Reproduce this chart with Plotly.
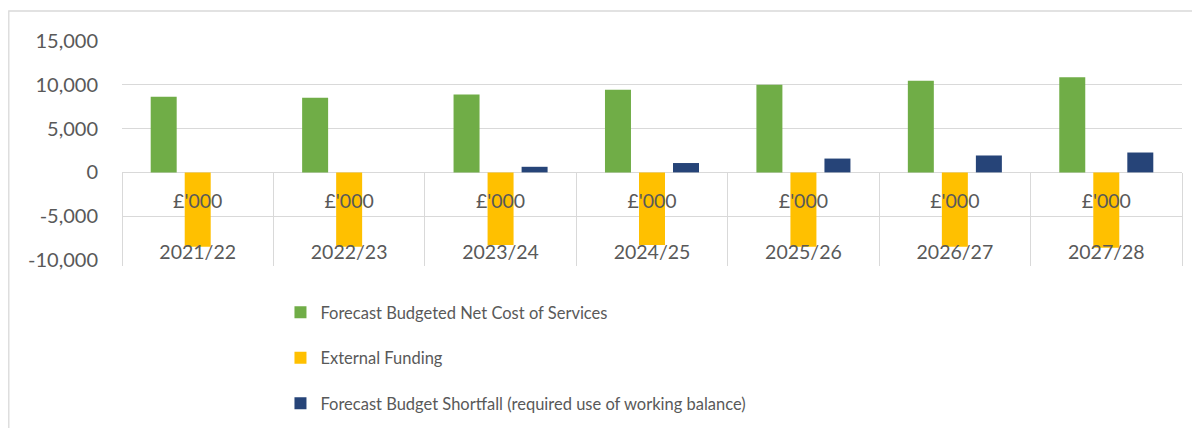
import plotly.graph_objects as go

years = ["2021/22", "2022/23", "2023/24", "2024/25", "2025/26", "2026/27", "2027/28"]
unit_label = "£'000"
net_cost = [8640, 8530, 8900, 9430, 10000, 10460, 10870]
external_funding = [-8480, -8480, -8290, -8300, -8480, -8480, -8590]
shortfall = [0, 0, 640, 1070, 1580, 1930, 2270]
y_ticks = [-10000, -5000, 0, 5000, 10000, 15000]

series_names = [
    "Forecast Budgeted Net Cost of Services",
    "External Funding",
    "Forecast Budget Shortfall (required use of working balance)",
]
series_values = [net_cost, external_funding, shortfall]
colors = ["#70ad47", "#ffc000", "#264478"]

FONT = "Lato"
GRID = "#d9d9d9"
TXT = "#595959"

fig = go.Figure()
for i, (name, vals, col) in enumerate(zip(series_names, series_values, colors)):
    fig.add_trace(go.Bar(
        x=years, y=vals, name=name,
        marker=dict(color=col, line=dict(width=0)),
        legendgroup=f"g{i}",
    ))

cat_text = [f"{unit_label}<br> <br>{y}" for y in years]
y_text = [f"{v:,}" for v in y_ticks]  # plain hyphen-minus as in the original

# page body has an 8px offset, compensated in the margins
L, R, T, B = 114, 26, 33, 176
PW, PH = 1200 - L - R, 428 - T - B
fig.update_layout(
    width=1200, height=428,
    margin=dict(l=L, r=R, t=T, b=B, autoexpand=False),
    paper_bgcolor="white", plot_bgcolor="white",
    barmode="group", bargap=0.326, bargroupgap=0.236,
    font=dict(family=FONT, color=TXT),
    showlegend=True,
    legend=dict(
        orientation="v", x=0.1495, xanchor="left", y=-0.16, yanchor="top",
        font=dict(family=FONT, size=16.5, color=TXT),
        tracegroupgap=21, itemclick=False, bgcolor="rgba(0,0,0,0)",
    ),
    xaxis=dict(
        type="category", anchor="free", position=0.4, automargin=False,
        tickvals=years, ticktext=cat_text,
        showgrid=False, showline=False,
        ticks="outside", tickson="boundaries", ticklen=93,
        tickcolor=GRID, tickwidth=1.3,
        ticklabelstandoff=15,
        tickfont=dict(family=FONT, size=19.5, color=TXT),
    ),
    yaxis=dict(
        range=[-10000, 15000], tickvals=y_ticks, ticktext=y_text, automargin=False,
        showgrid=True, gridcolor=GRID, gridwidth=1.3,
        zeroline=True, zerolinecolor=GRID, zerolinewidth=1.3,
        showline=False, ticks="", ticklabelstandoff=23,
        tickfont=dict(family=FONT, size=20, color=TXT),
    ),
    shapes=[dict(
        type="rect", xref="paper", yref="paper",
        x0=(0.8 - L) / PW, x1=1.2, y0=-1.0, y1=(T + PH - 3) / PH,
        line=dict(color=GRID, width=1.3), fillcolor="rgba(0,0,0,0)", layer="below",
    )],
)

fig.write_html("out.html")
